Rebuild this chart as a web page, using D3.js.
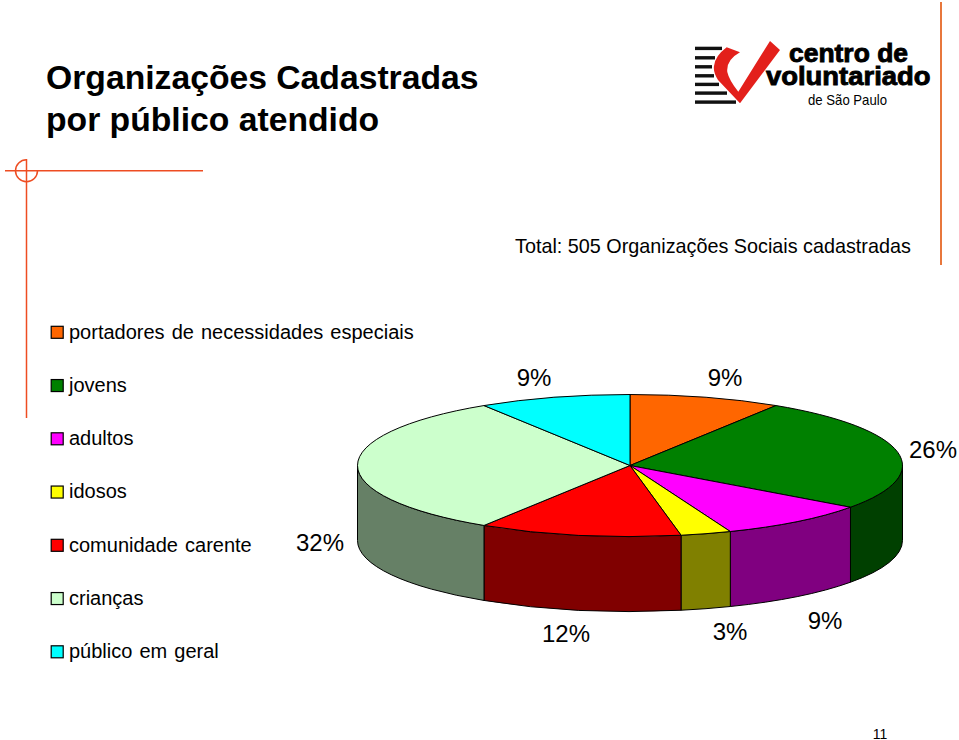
<!DOCTYPE html>
<html><head><meta charset="utf-8">
<script src="https://cdn.jsdelivr.net/npm/d3@7/dist/d3.min.js"></script>
<style>html,body{margin:0;padding:0;background:#fff}svg{display:block}text{font-family:"Liberation Sans",Arial,sans-serif;fill:#000}</style>
</head><body><svg id="c" width="959" height="740"></svg>
<script>
const categories = ["portadores de necessidades especiais","jovens","adultos","idosos","comunidade carente","crianças","público em geral"];
const values = [9,26,9,3,12,32,9];
const tickLabels = ["9%","26%","9%","3%","12%","32%","9%"];
const colors = ["#ff6600","#008000","#ff00ff","#ffff00","#ff0000","#ccffcc","#00ffff"];
const sideColors = ["#7f3300","#004000","#800080","#808000","#800000","#668066","#008080"];
const labelPos = [[725,386],[933,458],[825,629],[730,640],[566,642],[320,551],[534,386]];
const titleLines = ["Organizações Cadastradas","por público atendido"];
const subtitle = "Total: 505 Organizações Sociais cadastradas";
const pageNumber = "11";

const svg = d3.select("#c");
const orange = "#ee4d22";
// decoration
const deco = svg.append("g").attr("fill","none").attr("stroke",orange);
deco.append("path").attr("stroke-width",1.5).attr("d","M5 170.7H203M26.5 159V418");
deco.append("path").attr("stroke-width",1.5).attr("d",d3.arc()({innerRadius:11,outerRadius:11,startAngle:Math.PI/2,endAngle:2*Math.PI})).attr("transform","translate(26.5,170.7)");
svg.append("path").attr("d","M941 2V265").attr("stroke","#e8773c").attr("stroke-width",2);

// titles
svg.selectAll(".t").data(titleLines).join("text").attr("class","t").attr("x",46).attr("y",(d,i)=>[89,131][i])
  .attr("font-size",33.7).attr("font-weight","bold").text(d=>d);
svg.append("text").attr("x",515).attr("y",253).attr("font-size",19.8).text(subtitle);
svg.append("text").attr("x",880).attr("y",738.5).attr("text-anchor","middle").attr("font-size",14).text(pageNumber);

// logo
const logo = svg.append("g");
const stripes = [[48.3,722],[57.7,715],[66.7,712],[75.7,714],[84.3,719],[93,727],[102,736]];
logo.selectAll("rect").data(stripes).join("rect").attr("x",695).attr("y",d=>d[0]-1.6).attr("width",d=>d[1]-695).attr("height",3.4).attr("fill","#111");
logo.append("path").attr("fill","#e3201b").attr("d","M726.7 47.3L740 52.3Q726 60 727.3 72Q729 80 738.3 91.7L770 41L780 50L740 103.3L718 80Q713 72 714 66Q715 56 726.7 47.3Z");
const logoText = [["centro de",789,61.5,119,26],["voluntariado",766,85,164.5,26],["de São Paulo",808,104.5,79,14.5]];
logo.selectAll("text").data(logoText).join("text").attr("x",d=>d[1]).attr("y",d=>d[2]).attr("font-size",d=>d[4])
  .attr("textLength",d=>d[3]).attr("lengthAdjust","spacingAndGlyphs")
  .attr("font-weight",(d,i)=>i<2?"bold":"normal")
  .style("stroke",(d,i)=>i<2?"#000":"none").style("stroke-width",0.9).text(d=>d[0]);

// legend
const legendY = d3.scalePoint().domain(categories).range([338.5,658]);
const lg = svg.selectAll(".lg").data(categories).join("g").attr("class","lg").attr("transform",d=>`translate(0,${legendY(d)})`);
lg.append("rect").attr("x",51.2).attr("y",-12.2).attr("width",12).attr("height",12).attr("fill",(d,i)=>colors[i]).attr("stroke","#000").attr("stroke-width",1.2);
lg.append("text").attr("x",69).attr("y",0).attr("font-size",20).style("word-spacing","1.5px").text(d=>d);

// pie
const cx=630, cy=465.5, rx=272.5, ry=71, depth=75;
const pie = d3.pie().sort(null)(values);
const px = a => cx + rx*Math.sin(a), py = a => cy - ry*Math.cos(a);
const g = svg.append("g").attr("stroke","#000").attr("stroke-width",1);
// walls: visible only between 90deg and 270deg
const lo=Math.PI/2, hi=3*Math.PI/2;
pie.forEach((p,i)=>{
  const a=Math.max(p.startAngle,lo), b=Math.min(p.endAngle,hi);
  if(a>=b) return;
  g.append("path").attr("fill",sideColors[i])
   .attr("d",`M${px(a)} ${py(a)}A${rx} ${ry} 0 0 1 ${px(b)} ${py(b)}V${py(b)+depth}A${rx} ${ry} 0 0 0 ${px(a)} ${py(a)+depth}Z`);
});
const arc = d3.arc().innerRadius(0).outerRadius(rx);
g.selectAll(".s").data(pie).join("path").attr("class","s").attr("d",arc)
  .attr("transform",`translate(${cx},${cy}) scale(1,${ry/rx})`)
  .attr("vector-effect","non-scaling-stroke").attr("fill",(d,i)=>colors[i]);
// value labels
svg.selectAll(".v").data(tickLabels).join("text").attr("class","v").attr("font-size",24).attr("text-anchor","middle")
  .attr("x",(d,i)=>labelPos[i][0]).attr("y",(d,i)=>labelPos[i][1]).text(d=>d);
</script></body></html>
